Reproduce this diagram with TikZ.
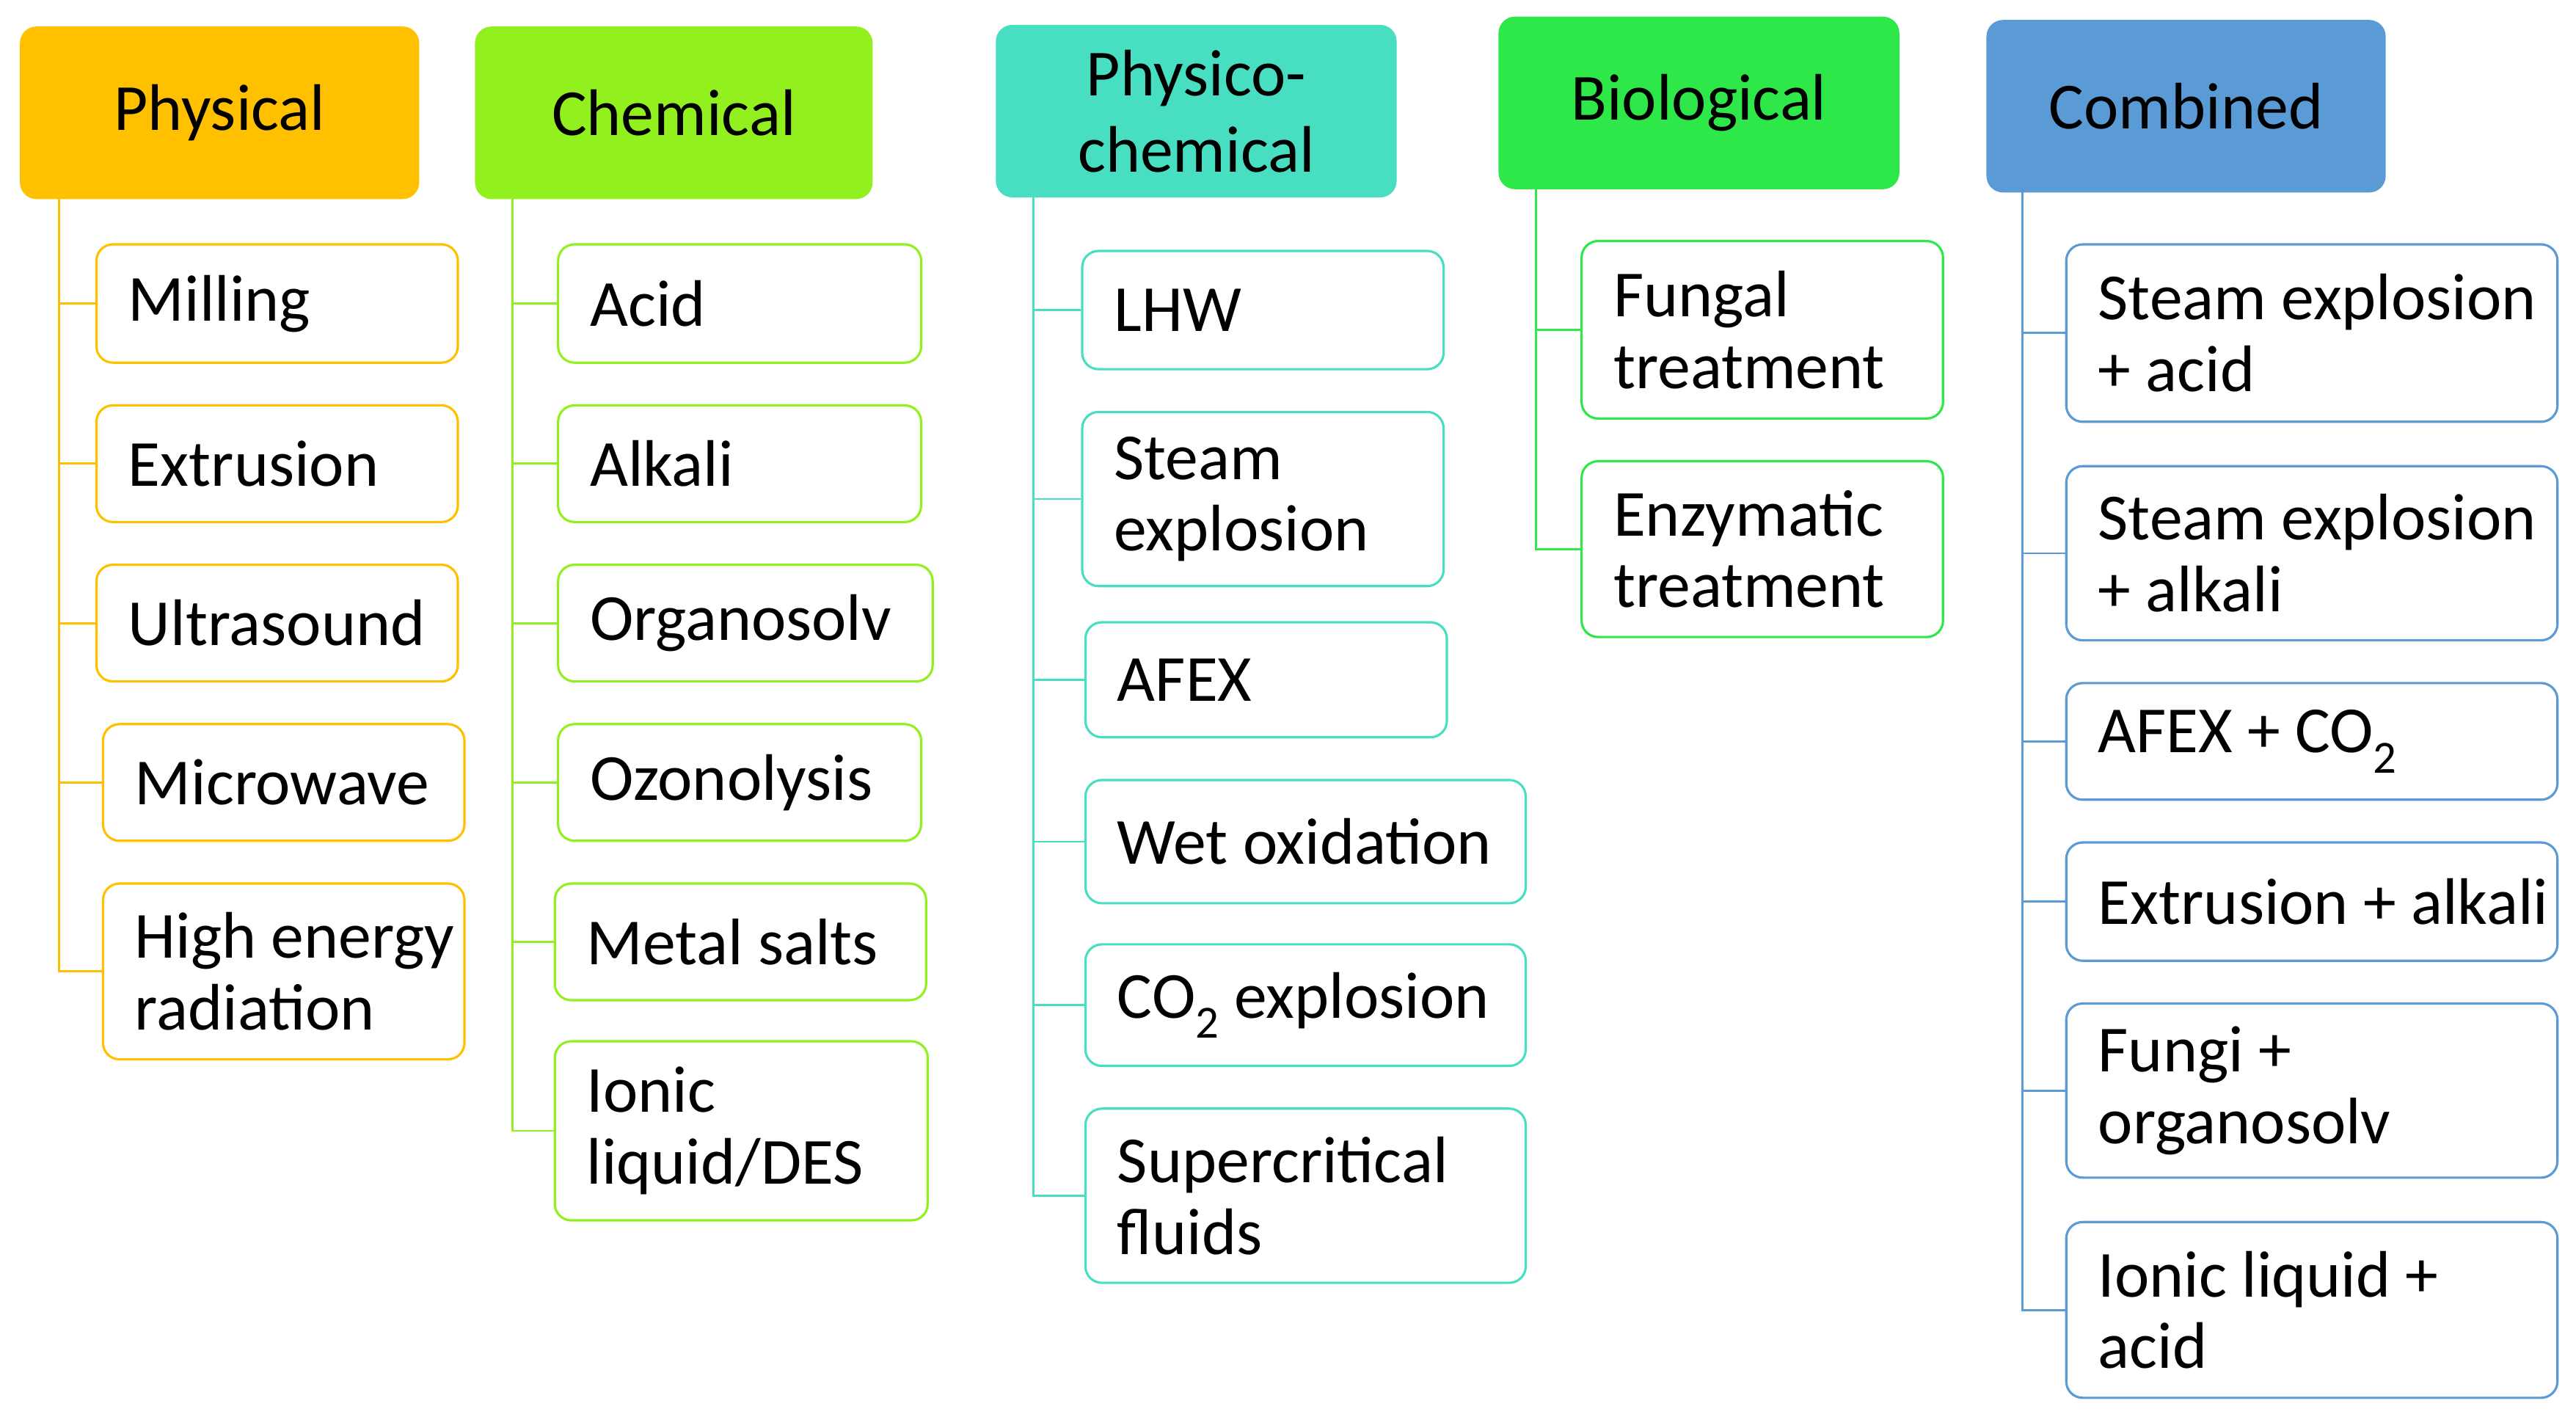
\documentclass[tikz,border=0pt]{standalone}
\usepackage{fontspec}
\usetikzlibrary{calc}
\setmainfont{Carlito}
\definecolor{cPhy}{HTML}{FFC000}
\definecolor{cChe}{HTML}{92F01E}
\definecolor{cPc}{HTML}{48DEC2}
\definecolor{cBio}{HTML}{2EE84A}
\definecolor{cCom}{HTML}{5B9BD5}
\begin{document}
\begin{tikzpicture}[x=0.05cm,y=-0.05cm,
  hdr/.style={rounded corners=0.5cm,anchor=north west,inner sep=0pt,align=center,font=\fontsize{57}{66}\selectfont},
  bx/.style={draw,line width=2pt,fill=white,rounded corners=0.5cm,anchor=north west,inner sep=0pt},
  lbl/.style={anchor=west,align=left,inner sep=0pt,font=\fontsize{57}{62}\selectfont},
  tr/.style={line width=1.8pt}]
\useasboundingbox (0,0) rectangle (1568,862);
\newcommand\hd[7]{\node[hdr,fill=#7,minimum width={(#4-#2)*0.05cm},minimum height={(#5-#3)*0.05cm}] (#1) at (#2,#3) {#6};}
\newcommand\bb[8]{%
 \node[bx,draw=#8,minimum width={(#4-#2)*0.05cm},minimum height={(#5-#3)*0.05cm}] (#1) at (#2,#3) {};
 \node[lbl] (#1t) at ($(#1.west)+(20,0)$) {#6};
 \draw[tr,#8] (#7) |- (#1.west);}
\hd{h1}{12}{16}{255}{121}{Physical}{cPhy}
\hd{h2}{289}{16}{531}{121}{Chemical}{cChe}
\hd{h3}{606}{15}{850}{120}{Physico-\\chemical}{cPc}
\hd{h4}{912}{10}{1156}{115}{Biological}{cBio}
\hd{h5}{1209}{12}{1452}{117}{Combined}{cCom}
\coordinate (t1) at (36,121);
\coordinate (t2) at (312,121);
\coordinate (t3) at (629,120);
\coordinate (t4) at (935,115);
\coordinate (t5) at (1231,117);
\bb{a1}{58}{148}{278}{220}{Milling}{t1}{cPhy}
\bb{a2}{58}{246}{278}{317}{Extrusion}{t1}{cPhy}
\bb{a3}{58}{343}{278}{414}{Ultrasound}{t1}{cPhy}
\bb{a4}{62}{440}{282}{511}{Microwave}{t1}{cPhy}
\bb{a5}{62}{537}{282}{644}{High energy\\radiation}{t1}{cPhy}
\bb{b1}{339}{148}{560}{220}{Acid}{t2}{cChe}
\bb{b2}{339}{246}{560}{317}{Alkali}{t2}{cChe}
\bb{b3}{339}{343}{567}{414}{Organosolv}{t2}{cChe}
\bb{b4}{339}{440}{560}{511}{Ozonolysis}{t2}{cChe}
\bb{b5}{337}{537}{563}{608}{Metal salts}{t2}{cChe}
\bb{b6}{337}{633}{564}{742}{Ionic\\liquid/DES}{t2}{cChe}
\bb{c1}{658}{152}{878}{224}{LHW}{t3}{cPc}
\bb{c2}{658}{250}{878}{356}{Steam\\explosion}{t3}{cPc}
\bb{c3}{660}{378}{880}{448}{AFEX}{t3}{cPc}
\bb{c4}{660}{474}{928}{549}{Wet oxidation}{t3}{cPc}
\bb{c5}{660}{574}{928}{648}{CO\textsubscript{2} explosion}{t3}{cPc}
\bb{c6}{660}{674}{928}{780}{Supercritical\\fluids}{t3}{cPc}
\bb{d1}{962}{146}{1182}{254}{Fungal\\treatment}{t4}{cBio}
\bb{d2}{962}{280}{1182}{387}{Enzymatic\\treatment}{t4}{cBio}
\bb{e1}{1257}{148}{1556}{256}{Steam explosion\\+ acid}{t5}{cCom}
\bb{e2}{1257}{283}{1556}{389}{Steam explosion\\+ alkali}{t5}{cCom}
\bb{e3}{1257}{415}{1556}{486}{AFEX + CO\textsubscript{2}}{t5}{cCom}
\bb{e4}{1257}{512}{1556}{584}{Extrusion + alkali}{t5}{cCom}
\bb{e5}{1257}{610}{1556}{716}{Fungi +\\organosolv}{t5}{cCom}
\bb{e6}{1257}{743}{1556}{850}{Ionic liquid +\\acid}{t5}{cCom}
\end{tikzpicture}
\end{document}
